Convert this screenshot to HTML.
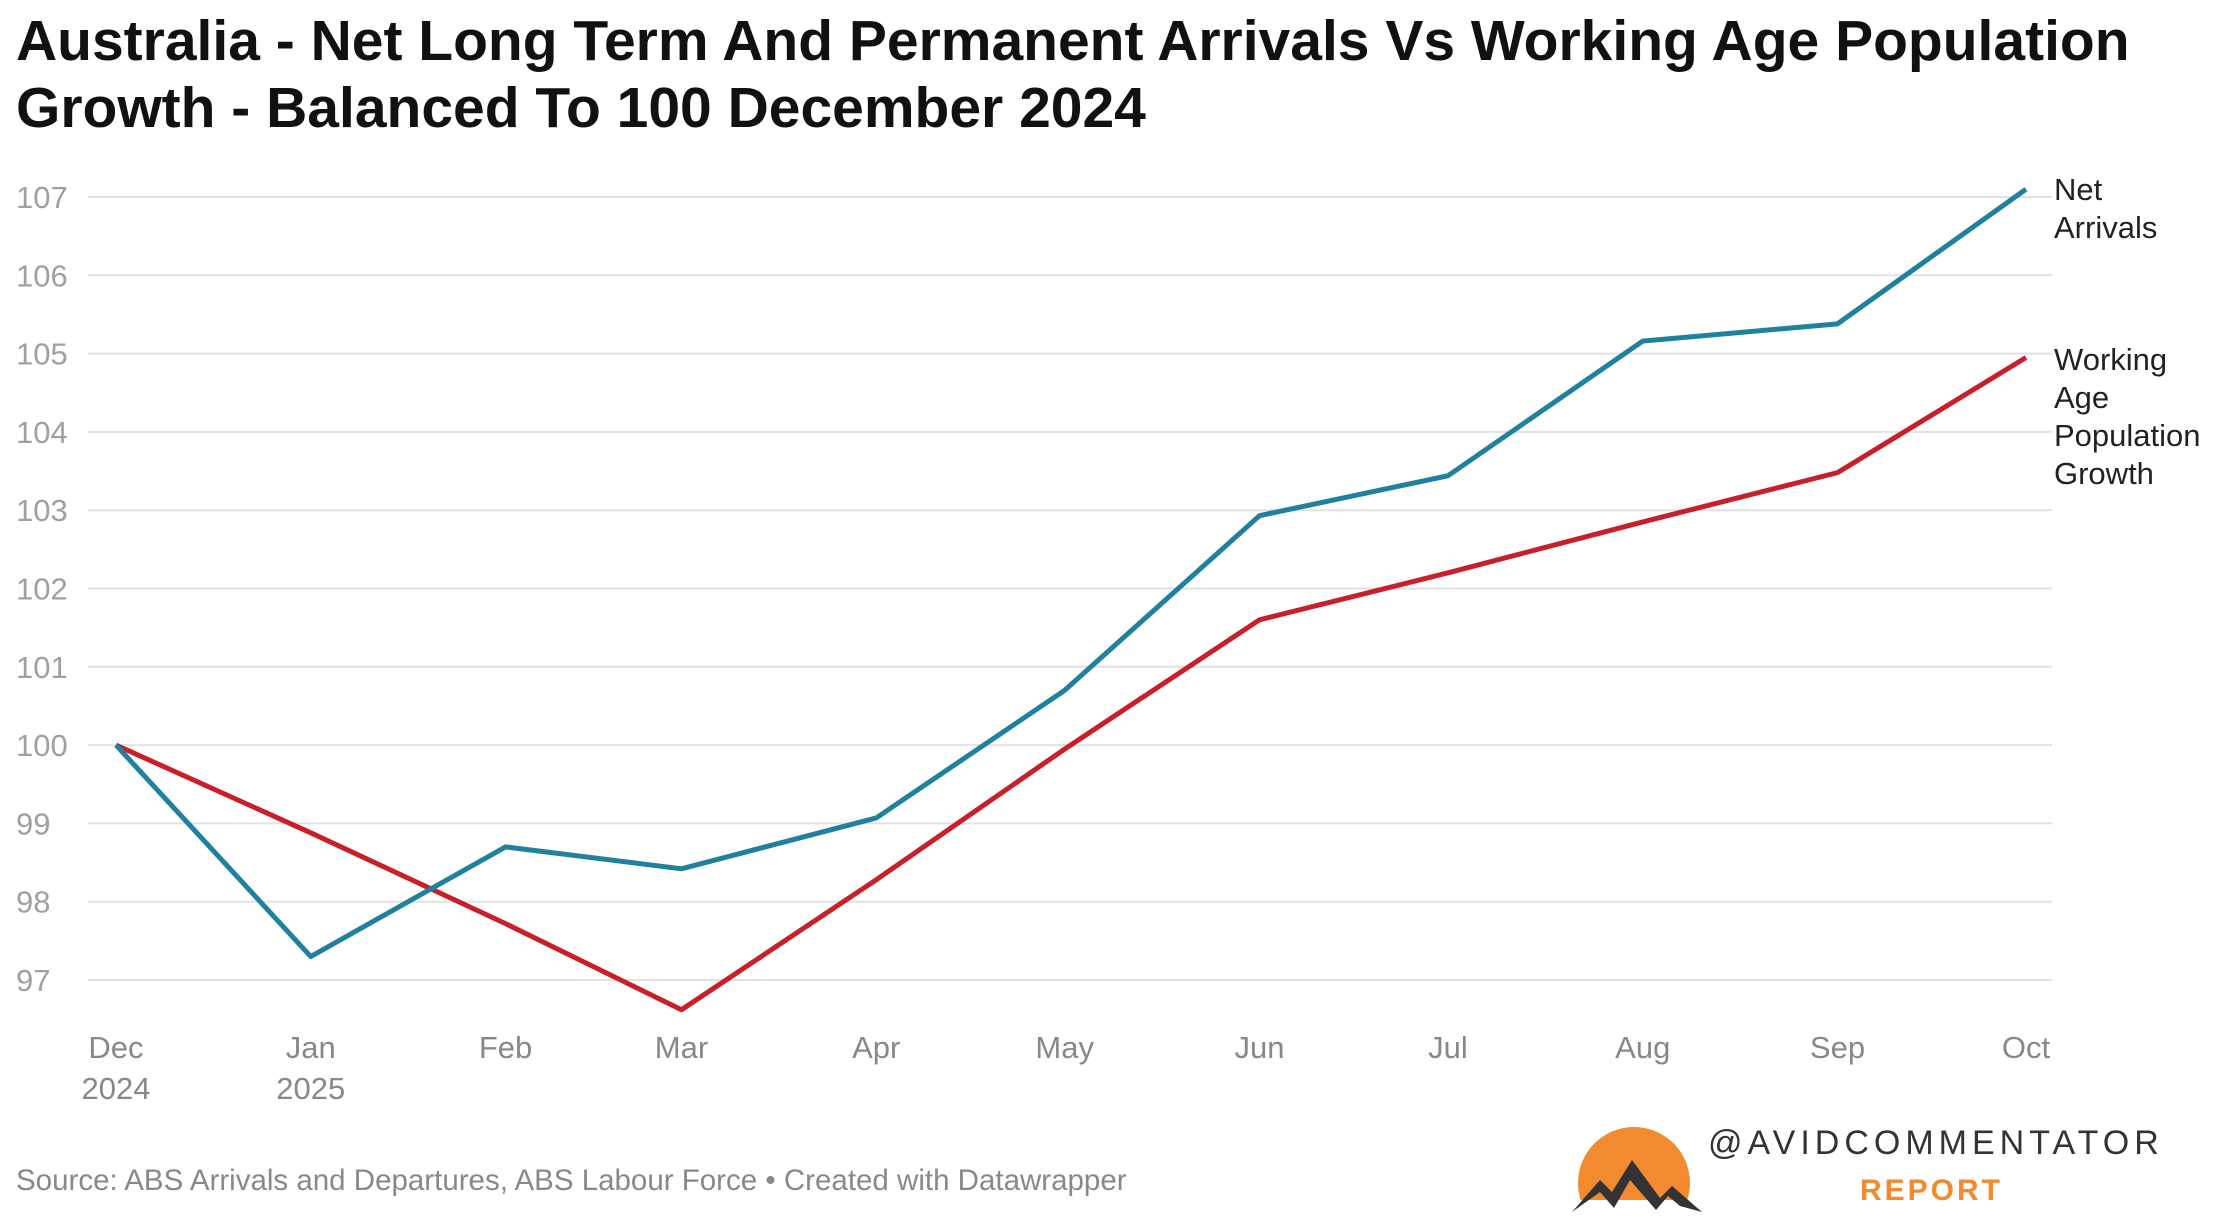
<!DOCTYPE html>
<html><head><meta charset="utf-8"><style>
body{margin:0;background:#fff;width:2218px;height:1219px;overflow:hidden;font-family:"Liberation Sans",sans-serif}
svg{display:block}
</style></head><body>
<svg width="2218" height="1219">
<text x="16" y="60" font-size="57" font-weight="bold" fill="#111">Australia - Net Long Term And Permanent Arrivals Vs Working Age Population</text>
<text x="16" y="127" font-size="57" font-weight="bold" fill="#111">Growth - Balanced To 100 December 2024</text>
<g id="grid"></g><g id="xaxis"></g><g id="lines"></g>
<text x="2054" y="200" font-size="31" fill="#222"><tspan x="2054">Net</tspan><tspan x="2054" dy="38">Arrivals</tspan></text>
<text x="2054" y="370" font-size="31" fill="#222"><tspan x="2054">Working</tspan><tspan x="2054" dy="38">Age</tspan><tspan x="2054" dy="38">Population</tspan><tspan x="2054" dy="38">Growth</tspan></text>
<text x="16" y="1190" font-size="29.5" fill="#888">Source: ABS Arrivals and Departures, ABS Labour Force • Created with Datawrapper</text>
<g>
<circle cx="1634" cy="1183" r="56" fill="#f28a30"/>
<rect x="1570" y="1200" width="130" height="19" fill="#fff"/>
<path d="M1572 1212 L1600 1180 L1612 1192 L1632 1160 L1660 1198 L1672 1186 L1702 1212 L1680 1206 L1668 1196 L1656 1210 L1630 1180 L1614 1208 L1600 1192 Z" fill="#333"/>
<text x="1708" y="1154" font-size="34" fill="#333" letter-spacing="5">@AVIDCOMMENTATOR</text>
<text x="1860" y="1200" font-size="30" font-weight="bold" fill="#f28a30" letter-spacing="3">REPORT</text>
</g>
</svg>
<script>
const months=["2024-12-01","2025-01-01","2025-02-01","2025-03-01","2025-04-01","2025-05-01","2025-06-01","2025-07-01","2025-08-01","2025-09-01","2025-10-01"];
const monthLabels=["Dec","Jan","Feb","Mar","Apr","May","Jun","Jul","Aug","Sep","Oct"];
const yearLabels=["2024","2025","","","","","","","","",""];
const netArrivals=[100,97.3,98.7,98.42,99.07,100.7,102.93,103.44,105.16,105.38,107.1];
const workingAge=[100,98.88,97.72,96.62,98.28,99.95,101.6,102.2,102.85,103.48,104.95];
const yTicks=[97,98,99,100,101,102,103,104,105,106,107];
const NS="http://www.w3.org/2000/svg";
const t0=Date.parse(months[0]),t1=Date.parse(months[months.length-1]);
const x=d=>116+(Date.parse(d)-t0)/(t1-t0)*(2026-116);
const y=v=>980-(v-97)*(980-197)/10;
const grid=document.getElementById('grid');
yTicks.forEach(v=>{
 const l=document.createElementNS(NS,'line');
 l.setAttribute('x1',88);l.setAttribute('x2',2052);l.setAttribute('y1',y(v));l.setAttribute('y2',y(v));
 l.setAttribute('stroke','#e2e2e2');l.setAttribute('stroke-width',2);
 
 
 grid.appendChild(l);
 const t=document.createElementNS(NS,'text');
 t.setAttribute('x',16);t.setAttribute('y',y(v)+11);t.setAttribute('font-size',31);t.setAttribute('fill','#a0a0a0');
 t.textContent=v;
 
 
 grid.appendChild(t);
});
const xa=document.getElementById('xaxis');
months.forEach((m,i)=>{
 const t=document.createElementNS(NS,'text');
 t.setAttribute('x',x(m));t.setAttribute('y',1058);t.setAttribute('font-size',31);t.setAttribute('fill','#888');t.setAttribute('text-anchor','middle');
 t.textContent=monthLabels[i];
 
 
 xa.appendChild(t);
 if(yearLabels[i]){
  const t2=document.createElementNS(NS,'text');
  t2.setAttribute('x',x(m));t2.setAttribute('y',1099);t2.setAttribute('font-size',31);t2.setAttribute('fill','#888');t2.setAttribute('text-anchor','middle');
  t2.textContent=yearLabels[i];
  
  
  xa.appendChild(t2);
 }
});
const lines=document.getElementById('lines');
function drawLine(vals,color,name){
 const p=document.createElementNS(NS,'polyline');
 p.setAttribute('points',vals.map((v,i)=>x(months[i])+','+y(v)).join(' '));
 p.setAttribute('fill','none');p.setAttribute('stroke',color);p.setAttribute('stroke-width',5);p.setAttribute('stroke-linejoin','round');
 
 
 lines.appendChild(p);
}
drawLine(workingAge,'#c8202a','working-age-line');
drawLine(netArrivals,'#1f819e','net-arrivals-line');
</script>
</body></html>
